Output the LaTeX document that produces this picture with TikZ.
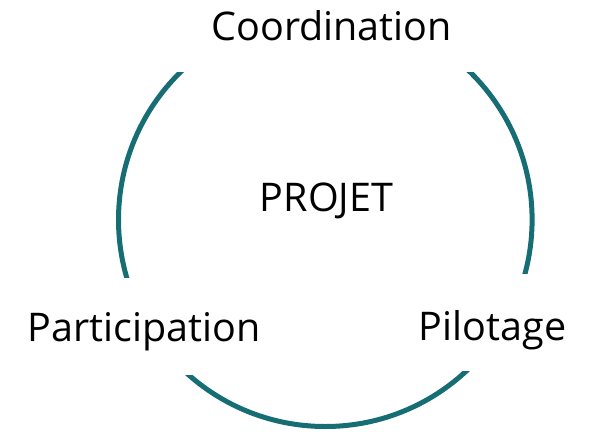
\documentclass[tikz,border=0pt]{standalone}
\usepackage{fontspec}
\setmainfont{Open Sans}
\definecolor{ringteal}{RGB}{22,110,116}
\begin{document}
\begin{tikzpicture}[x=1pt,y=-1pt,
  lbl/.style={anchor=base,inner sep=0pt,font=\fontsize{39.5}{44}\selectfont},
  ring/.style={draw=ringteal,line width=5pt},
  mask/.style={fill=white,draw=none}]
\useasboundingbox (0,0) rectangle (593,431);
% ring
\draw[ring] (325.3,219.7) circle[radius=206.8];
% gaps in the ring where the labels sit
\path[mask] (150,-5) rectangle (500,72);
\path[mask] (100,278) rectangle (205,375);
\path[mask] (448,274) rectangle (548,371);
% labels
\node[lbl] (coord) at (331.7,40) {Coordination};
\node[lbl] (projet) at (326.5,211.7) {PROJET};
\node[lbl] (partic) at (144,341.7) {Participation};
\node[lbl] (pilot) at (492.5,340) {Pilotage};
\end{tikzpicture}
\end{document}
